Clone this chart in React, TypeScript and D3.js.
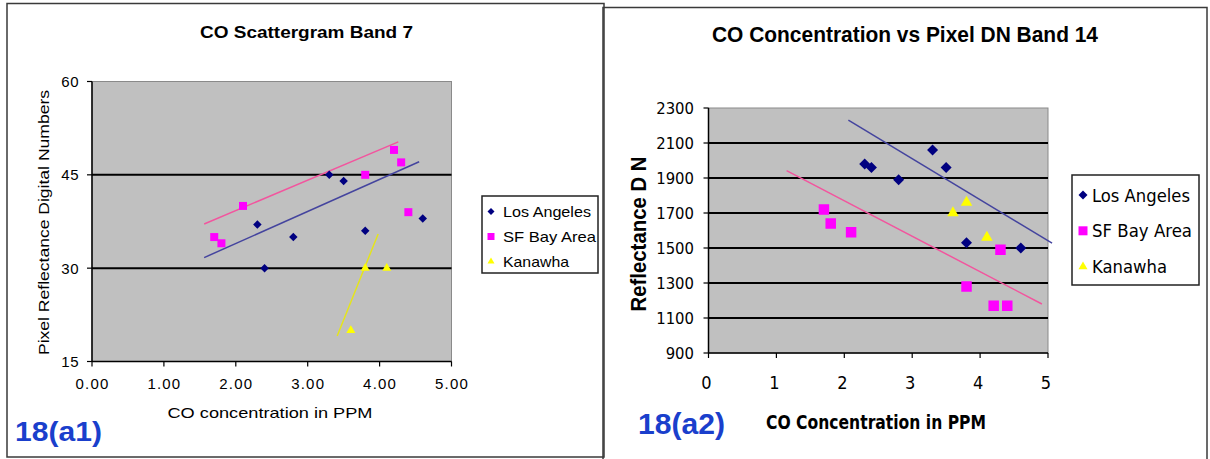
import * as d3 from 'd3';

// CO concentration (ppm) for each site, shared by both bands
const laPPM = [2.3, 2.4, 2.8, 3.3, 3.5, 3.8, 4.6];
const sfPPM = [1.7, 1.8, 2.1, 3.8, 4.2, 4.3, 4.4];
const kanPPM = [3.6, 3.8, 4.1];

// band 7 pixel DN
const b7LA = [37, 30, 35, 45, 44, 36, 38];
const b7SF = [35, 34, 40, 45, 49, 47, 39];
const b7Kan = [20, 30, 30];

// band 14 pixel DN
const b14LA = [1980, 1960, 1890, 2060, 1960, 1530, 1500];
const b14SF = [1720, 1640, 1590, 1280, 1170, 1490, 1170];
const b14Kan = [1700, 1760, 1560];

// trendline end points [ppm, DN] as drawn in the source figure
const b7TrendLA = [[1.56, 31.7], [4.55, 47.1]];
const b7TrendSF = [[1.56, 37.1], [4.26, 50.3]];
const b7TrendKan = [[3.41, 19.1], [3.98, 35.5]];
const b14TrendLA = [[2.06, 2231], [5.06, 1528]];
const b14TrendSF = [[1.15, 1942], [4.91, 1180]];

const siteNames = ['Los Angeles', 'SF Bay Area', 'Kanawha'];
const xTicks = [0, 1, 2, 3, 4, 5];
const b7YTicks = [15, 30, 45, 60];
const b14YTicks = [900, 1100, 1300, 1500, 1700, 1900, 2100, 2300];

const ARIAL = "'Liberation Sans', Arial, sans-serif";
const NARROW = "'Liberation Sans Narrow', 'Arial Narrow', 'DejaVu Sans Condensed', sans-serif";
const BLUE_LABEL = '#1a3fcc';

const SHAPES = ['diamond', 'square', 'triangle'];
const MARKER_FILL = ['#000080', '#ff00ff', '#ffff00'];
const TREND_STROKE = ['#44449e', '#f2559e', '#e4e41c'];

// s = nominal marker width in px
function markerPath(shape: string, s: number) {
  if (shape === 'diamond') return d3.symbol(d3.symbolDiamond2, (s / 2 / 0.62625) ** 2)() as string;
  if (shape === 'square') return d3.symbol(d3.symbolSquare, s * s)() as string;
  return d3.symbol(d3.symbolTriangle, (s * s * Math.sqrt(3)) / 4)() as string;
}

type Label = {
  text: string; x: number; y: number; size: number; w?: number;
  bold?: boolean; family?: string; color?: string; rotate?: boolean;
  anchor?: 'start' | 'middle' | 'end'; spacing?: number;
};

function Txt({ l }: { l: Label }) {
  return (
    <text
      x={l.rotate ? 0 : l.x}
      y={l.rotate ? 0 : l.y}
      transform={l.rotate ? `translate(${l.x},${l.y}) rotate(-90)` : undefined}
      textAnchor={l.anchor || 'middle'}
      fontFamily={l.family || ARIAL}
      fontSize={l.size}
      fontWeight={l.bold ? 700 : 400}
      fill={l.color || '#000'}
      letterSpacing={l.spacing}
      textLength={l.w}
      lengthAdjust={l.w ? 'spacingAndGlyphs' : undefined}
    >
      {l.text}
    </text>
  );
}

function Panel(props: any) {
  const { plot, xDomain, yDomain, yTicks, xFmt, series, trends, msize, tick, legend } = props;
  const x = d3.scaleLinear().domain(xDomain).range([plot.left, plot.right]);
  const y = d3.scaleLinear().domain(yDomain).range([plot.bottom, plot.top]);
  const line = d3.line<number[]>().x(d => x(d[0])).y(d => y(d[1]));
  const grid = yTicks.slice(1, -1);

  return (
    <g>
      {/* plot area */}
      <rect x={plot.left} y={plot.top} width={plot.right - plot.left} height={plot.bottom - plot.top}
        fill="#c0c0c0" stroke="#8a8a8a" strokeWidth={1} />
      {grid.map((t: number) => (
        <line key={t} x1={plot.left} x2={plot.right} y1={y(t)} y2={y(t)} stroke="#000" strokeWidth={2} />
      ))}

      {/* axes */}
      <line x1={plot.left} x2={plot.left} y1={plot.top} y2={plot.bottom} stroke="#000" strokeWidth={1.5} />
      <line x1={plot.left} x2={plot.right} y1={plot.bottom} y2={plot.bottom} stroke="#000" strokeWidth={1.5} />
      {yTicks.map((t: number) => (
        <g key={'y' + t}>
          <line x1={plot.left - 5} x2={plot.left} y1={y(t)} y2={y(t)} stroke="#000" strokeWidth={1.2} />
          <text x={plot.left + tick.yDx} y={y(t) + tick.yDy} textAnchor="end" fontFamily={tick.family}
            fontSize={tick.ySize} letterSpacing={tick.ySpacing} fill="#000">{t}</text>
        </g>
      ))}
      {xTicks.map((t: number) => (
        <g key={'x' + t}>
          <line x1={x(t)} x2={x(t)} y1={plot.bottom} y2={plot.bottom + 5} stroke="#000" strokeWidth={1.2} />
          <text x={x(t) + tick.xDx} y={tick.xBase} textAnchor="middle" fontFamily={tick.family}
            fontSize={tick.xSize} letterSpacing={tick.xSpacing} fill="#000">{xFmt(t)}</text>
        </g>
      ))}

      {/* trendlines */}
      {trends.map((tr: any, i: number) => (
        <path key={'t' + i} d={line(tr.pts) as string} fill="none" stroke={TREND_STROKE[tr.idx]} strokeWidth={1.5} />
      ))}

      {/* markers */}
      {series.map((s: any, si: number) =>
        s.xs.map((v: number, i: number) => (
          <path key={si + '-' + i} d={markerPath(SHAPES[si], msize[si])}
            transform={`translate(${x(v)},${y(s.ys[i])})`} fill={MARKER_FILL[si]} />
        ))
      )}

      {/* legend */}
      <rect x={legend.x} y={legend.y} width={legend.w} height={legend.h} fill="#fff" stroke="#222" strokeWidth={1.5} />
      {siteNames.map((n, i) => {
        const cy = legend.firstY + i * legend.step;
        return (
          <g key={n}>
            <path d={markerPath(SHAPES[i], legend.msize)} transform={`translate(${legend.mx},${cy})`} fill={MARKER_FILL[i]} />
            <Txt l={{ text: n, x: legend.tx, y: cy + legend.dy, size: legend.size, w: legend.widths[i],
              anchor: 'start', family: legend.family }} />
          </g>
        );
      })}
    </g>
  );
}

export default function App() {
  const fmt2 = d3.format('.2f');
  const fmt0 = d3.format('d');

  const leftLabels: Label[] = [
    { text: 'CO Scattergram Band 7', x: 306.5, y: 37.5, size: 17, bold: true, w: 213 },
    { text: 'Pixel Reflectance Digital Numbers', x: 49, y: 222.5, size: 15, w: 265, rotate: true },
    { text: 'CO concentration in PPM', x: 270, y: 418, size: 15, w: 205 },
    { text: '18(a1)', x: 15, y: 441, size: 27, bold: true, w: 87, anchor: 'start', color: BLUE_LABEL },
  ];
  const rightLabels: Label[] = [
    { text: 'CO Concentration vs Pixel DN Band 14', x: 905, y: 42, size: 22, bold: true, w: 386 },
    { text: 'Reflectance D N', x: 645.5, y: 234, size: 22, bold: true, w: 155, rotate: true },
    { text: 'CO Concentration in PPM', x: 876, y: 429, size: 19, bold: true, w: 220, family: NARROW },
    { text: '18(a2)', x: 638, y: 434, size: 30, bold: true, w: 87, anchor: 'start', color: BLUE_LABEL },
  ];

  return (
    <svg width={1210} height={459} style={{ position: 'absolute', left: 0, top: 0, display: 'block', background: '#fff' }}>
      <rect x={0} y={0} width={1210} height={459} fill="#fff" />
      {/* chart frames */}
      <rect x={7} y={3.5} width={597} height={453.5} fill="none" stroke="#3a3a3a" strokeWidth={1.5} />
      <rect x={603} y={7.5} width={604} height={455} fill="none" stroke="#3a3a3a" strokeWidth={1.5} />

      <Panel
        plot={{ left: 92, right: 451.5, top: 81.5, bottom: 361.5 }}
        xDomain={[0, 5]}
        yDomain={[15, 60]}
        yTicks={b7YTicks}
        xFmt={fmt2}
        series={[{ xs: laPPM, ys: b7LA }, { xs: sfPPM, ys: b7SF }, { xs: kanPPM, ys: b7Kan }]}
        trends={[{ pts: b7TrendLA, idx: 0 }, { pts: b7TrendSF, idx: 1 }, { pts: b7TrendKan, idx: 2 }]}
        msize={[8.5, 8, 9]}
        tick={{ family: ARIAL, ySize: 15, ySpacing: 0.5, yDx: -13, yDy: 5.5, xSize: 15, xSpacing: 1.2, xDx: 0.5, xBase: 389 }}
        legend={{ x: 482, y: 196, w: 116, h: 77, firstY: 211.5, step: 25, mx: 491, tx: 503, dy: 5.5,
          size: 15, msize: 7, widths: [88, 93, 66], family: ARIAL }}
      />
      <Panel
        plot={{ left: 708.5, right: 1048, top: 108, bottom: 353 }}
        xDomain={[0, 5]}
        yDomain={[900, 2300]}
        yTicks={b14YTicks}
        xFmt={fmt0}
        series={[{ xs: laPPM, ys: b14LA }, { xs: sfPPM, ys: b14SF }, { xs: kanPPM, ys: b14Kan }]}
        trends={[{ pts: b14TrendLA, idx: 0 }, { pts: b14TrendSF, idx: 1 }]}
        msize={[11, 10.5, 11.5]}
        tick={{ family: NARROW, ySize: 16.5, ySpacing: 0, yDx: -14.5, yDy: 6, xSize: 18, xSpacing: 0, xDx: -2, xBase: 388.5 }}
        legend={{ x: 1072, y: 175, w: 127, h: 110, firstY: 195, step: 35.8, mx: 1083, tx: 1092, dy: 6.5,
          size: 18, msize: 9, widths: [98, 100, 75], family: NARROW }}
      />

      {leftLabels.map(l => <Txt key={l.text} l={l} />)}
      {rightLabels.map(l => <Txt key={l.text} l={l} />)}
    </svg>
  );
}
